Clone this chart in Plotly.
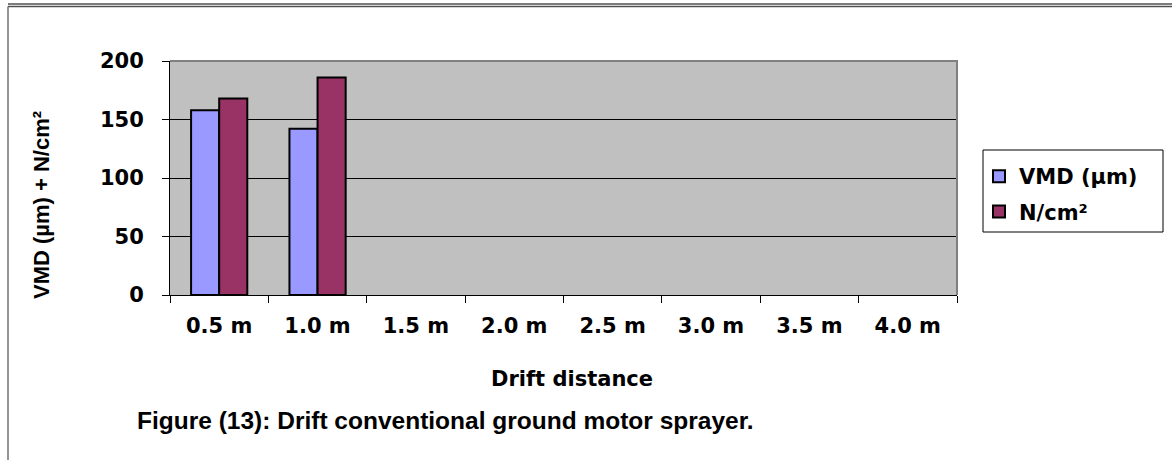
import plotly.graph_objects as go

# ---- data ----
categories = ["0.5 m", "1.0 m", "1.5 m", "2.0 m", "2.5 m", "3.0 m", "3.5 m", "4.0 m"]
vmd_values = [158, 142, None, None, None, None, None, None]
n_cm2_values = [168, 186, None, None, None, None, None, None]
series_names = ["VMD (µm)", "N/cm²"]
y_ticks = [0, 50, 100, 150, 200]

W, H = 1172, 460
L, R, T, B = 170, 957, 61, 295  # plot area in px


def px(x):
    return (x - L) / (R - L)


def py(y):
    return (B - y) / (B - T)


FONT = "DejaVu Sans"

fig = go.Figure()
fig.add_trace(go.Bar(
    x=categories, y=vmd_values, name=series_names[0], legendgroup="a",
    marker=dict(color="#9999FF", line=dict(color="black", width=2)),
))
fig.add_trace(go.Bar(
    x=categories, y=n_cm2_values, name=series_names[1], legendgroup="b",
    marker=dict(color="#993366", line=dict(color="black", width=2)),
))

fig.update_layout(
    width=W, height=H,
    margin=dict(l=L, r=W - R, t=T, b=H - B, autoexpand=False),
    paper_bgcolor="white",
    plot_bgcolor="#C0C0C0",
    barmode="group",
    bargap=1.5 / 3.5,
    bargroupgap=0,
    title=dict(
        text="Figure (13): Drift conventional ground motor sprayer.",
        x=137 / W, xanchor="left", xref="container",
        y=1 - 420 / H, yanchor="middle", yref="container",
        font=dict(family="Liberation Sans", size=24.5, color="black", weight="bold"),
    ),
    showlegend=True,
    legend=dict(
        x=px(979), y=py(156), xanchor="left", yanchor="top",
        bgcolor="rgba(0,0,0,0)", borderwidth=0,
        font=dict(family=FONT, size=21, color="black", weight="bold"),
        tracegroupgap=5, itemwidth=30,
    ),
    xaxis=dict(
        type="category",
        showgrid=False,
        showline=True, linecolor="black", linewidth=1,
        ticks="outside", tickson="boundaries", ticklen=7, tickcolor="black",
        tickfont=dict(family=FONT, size=21, color="black", weight="bold"),
        ticklabelstandoff=12,
        zeroline=False, fixedrange=True,
    ),
    yaxis=dict(
        range=[0, 200], tickvals=y_ticks,
        showgrid=True, gridcolor="black", gridwidth=1,
        showline=True, linecolor="black", linewidth=1,
        ticks="outside", ticklen=7, tickcolor="black",
        tickfont=dict(family=FONT, size=21, color="black", weight="bold"),
        ticklabelstandoff=14,
        zeroline=False, fixedrange=True,
    ),
    shapes=[
        # plot area frame (top + right, grey)
        dict(type="path", xref="paper", yref="paper",
             path="M 0,1 L 1,1 L 1,0", line=dict(color="#808080", width=2), layer="above"),
        # legend box
        dict(type="rect", xref="paper", yref="paper",
             x0=px(983), x1=px(1163), y0=py(232), y1=py(150),
             line=dict(color="black", width=1), fillcolor="white", layer="below"),
        # outer frame lines
        dict(type="line", xref="paper", yref="paper",
             x0=px(8), x1=px(1172), y0=py(4), y1=py(4), line=dict(color="#505050", width=1.5)),
        dict(type="line", xref="paper", yref="paper",
             x0=px(8), x1=px(1172), y0=py(6.5), y1=py(6.5), line=dict(color="#505050", width=1.5)),
        dict(type="line", xref="paper", yref="paper",
             x0=px(8), x1=px(8), y0=py(6.5), y1=py(460), line=dict(color="#707070", width=1.5)),
    ],
    annotations=[
        dict(text="Drift distance", xref="paper", yref="paper",
             x=px(572), y=py(379), xanchor="center", yanchor="middle", showarrow=False,
             font=dict(family=FONT, size=21, color="black", weight="bold")),
        dict(text="VMD (µm) + N/cm²", xref="paper", yref="paper", textangle=-90,
             x=px(41), y=py(205), xanchor="center", yanchor="middle", showarrow=False,
             font=dict(family="Liberation Sans", size=22, color="black", weight="bold")),
    ],
)

fig.write_html(
    "out.html",
    config={"displayModeBar": False, "staticPlot": True},
    post_script="document.body.style.margin='0';document.body.style.overflow='hidden';",
)
